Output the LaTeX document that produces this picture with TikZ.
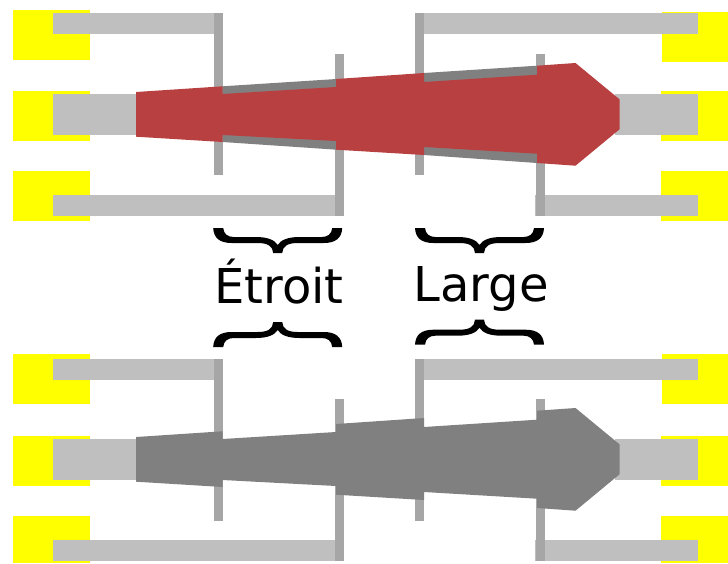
\documentclass[tikz,border=0pt]{standalone}
\usepackage{fontspec}
\setmainfont{DejaVu Sans}
\definecolor{padyellow}{HTML}{FFFF00}
\definecolor{stripgray}{HTML}{BFBFBF}
\definecolor{bargray}{HTML}{A6A6A6}
\definecolor{darkshape}{HTML}{808080}
\definecolor{redshape}{HTML}{B94040}
\tikzset{
  pad/.style={fill=padyellow,draw=none},
  strip/.style={fill=stripgray,draw=none},
  bar/.style={fill=bargray,draw=none},
  dark/.style={fill=darkshape,draw=none},
  red shape/.style={fill=redshape,draw=none},
  lbl/.style={inner sep=0pt,anchor=base,font=\fontsize{48}{48}\selectfont,text=black},
  brace/.pic={
    \fill[black] (-64.5,0) .. controls (-64,10) and (-58,15) .. (-46,15) -- (-20,15)
      .. controls (-10,15) and (-5,18) .. (-4.5,25) -- (4.5,25)
      .. controls (5,18) and (10,15) .. (20,15) -- (46,15)
      .. controls (58,15) and (64,10) .. (64.5,0) -- (54.5,0)
      .. controls (54,6) and (50,9) .. (44,9) -- (22,9)
      .. controls (10,9) and (3,12) .. (0,17)
      .. controls (-3,12) and (-10,9) .. (-22,9) -- (-44,9)
      .. controls (-50,9) and (-54,6) .. (-54.5,0) -- cycle;
  }
}
\begin{document}
\begin{tikzpicture}[x=1pt,y=-1pt]
\useasboundingbox (0,0) rectangle (728,563);
\fill[white] (0,0) rectangle (728,563);
% top row
\fill[pad] (13,10) rectangle (90,60);
\fill[pad] (13,91) rectangle (90,141);
\fill[pad] (13,171) rectangle (90,221);
\fill[pad] (662,12) rectangle (728,62);
\fill[pad] (661,91) rectangle (728,141);
\fill[pad] (661,171) rectangle (728,221);
\fill[strip] (53,13) rectangle (215,34);
\fill[strip] (415,13) rectangle (698,34);
\fill[strip] (53,94) rectangle (140,135);
\fill[strip] (615,94) rectangle (698,135);
\fill[strip] (53,195) rectangle (336,216);
\fill[strip] (535,195) rectangle (698,216);
\fill[bar] (214,13) rectangle (223,175);
\fill[bar] (415,13) rectangle (424,175);
\fill[bar] (335,54) rectangle (344,216);
\fill[bar] (536,54) rectangle (545,216);
\fill[dark] (222.5,86.3) -- (336.5,79) -- (336.5,149.7) -- (222.5,142) -- cycle;
\fill[dark] (424,73) -- (537,65.7) -- (537,163) -- (424,155) -- cycle;
\fill[red shape] (136,92) -- (222.5,86.3) -- (222.5,94) -- (336,87) -- (336,79)
  -- (424,73) -- (424,82) -- (537,74.7) -- (537,65.7) -- (575.5,63)
  -- (619.5,99.3) -- (619.5,129.3) -- (575.5,165.7) -- (537,163) -- (537,153.7)
  -- (424,147) -- (424,155) -- (336,149.7) -- (336,141) -- (222.5,135)
  -- (222.5,142) -- (136,136.7) -- cycle;
% bottom row
\fill[pad] (13,354) rectangle (90,404);
\fill[pad] (13,436) rectangle (90,486);
\fill[pad] (13,516) rectangle (90,563);
\fill[pad] (662,354) rectangle (728,404);
\fill[pad] (661,436) rectangle (728,486);
\fill[pad] (661,516) rectangle (728,563);
\fill[strip] (53,359) rectangle (215,380);
\fill[strip] (415,359) rectangle (698,380);
\fill[strip] (53,439) rectangle (140,480);
\fill[strip] (615,439) rectangle (698,480);
\fill[strip] (53,540) rectangle (336,561);
\fill[strip] (535,540) rectangle (698,561);
\fill[bar] (214,359) rectangle (223,521);
\fill[bar] (415,359) rectangle (424,521);
\fill[bar] (335,399) rectangle (344,561);
\fill[bar] (536,399) rectangle (545,561);
\fill[dark] (136,437) -- (222.5,431.3) -- (222.5,439) -- (336,432) -- (336,424)
  -- (424,418) -- (424,427) -- (537,419.7) -- (537,410.7) -- (575.5,408)
  -- (619.5,444.3) -- (619.5,474.3) -- (575.5,510.7) -- (537,508) -- (537,498.7)
  -- (424,492) -- (424,500) -- (336,494.7) -- (336,486) -- (222.5,480)
  -- (222.5,487) -- (136,481.7) -- cycle;
% braces and labels
\pic (braceA) at (277.7,228) {brace};
\pic (braceB) at (479.5,228) {brace};
\pic[yscale=-1] (braceC) at (277.7,347) {brace};
\pic[yscale=-1] (braceD) at (479.5,344.7) {brace};
\node[lbl] (etroit) at (279,303.3) {Étroit};
\node[lbl] (large) at (481,301) {Large};
\end{tikzpicture}
\end{document}
